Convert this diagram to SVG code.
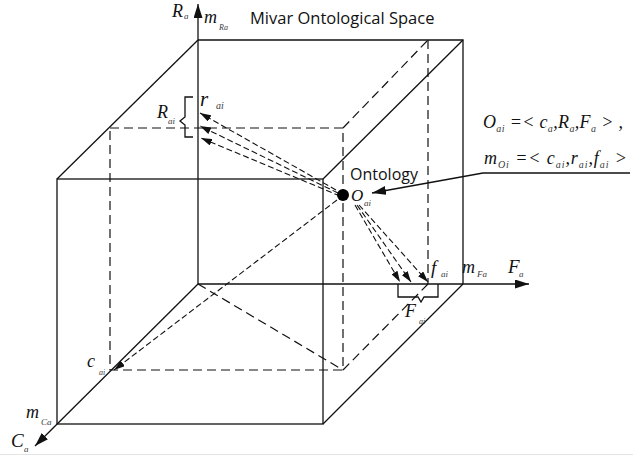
<svg xmlns="http://www.w3.org/2000/svg" width="633" height="455" viewBox="0 0 633 455">
<style>
.s{stroke:#111;stroke-width:1.3;fill:none}
.d{stroke:#111;stroke-width:1.2;fill:none;stroke-dasharray:9,5}
.da{stroke:#111;stroke-width:1.1;fill:none;stroke-dasharray:6,3}
.m{font-family:"Liberation Serif",serif;font-style:italic;fill:#111}
.sub{font-family:"Liberation Serif",serif;font-style:italic;fill:#3a3a3a}
.t{font-family:"Open Sans","Liberation Sans",sans-serif;fill:#111}
</style>
<defs>
<marker id="big" markerWidth="14" markerHeight="9" refX="14" refY="4.5" orient="auto" markerUnits="userSpaceOnUse"><path d="M0,0 L14,4.5 L0,9 Z" fill="#111"/></marker>
<marker id="sm" markerWidth="11" markerHeight="7" refX="11" refY="3.5" orient="auto" markerUnits="userSpaceOnUse"><path d="M0,0 L11,3.5 L0,7 Z" fill="#111"/></marker>
</defs>
<rect width="633" height="455" fill="#fff"/>
<line x1="0" y1="454.5" x2="633" y2="454.5" stroke="#e4e4e4" stroke-width="1"/>
<g id="cube">
<polyline class="s" points="198,40 463,40 463,284"/>
<rect class="s" x="57" y="179" width="266" height="245"/>
<line class="s" x1="198" y1="40" x2="57" y2="179"/>
<line class="s" x1="463" y1="40" x2="323" y2="179"/>
<line class="s" x1="463" y1="284" x2="323" y2="424"/>
</g>
<g id="inner">
<rect class="d" x="110" y="128" width="233" height="242"/>
<line class="d" x1="343" y1="128" x2="428" y2="40"/>
<line class="d" x1="428" y1="40" x2="428" y2="284"/>
<line class="d" x1="428" y1="284" x2="343" y2="370"/>
<line class="d" x1="198" y1="284" x2="343" y2="370"/>
</g>
<g id="axes">
<line class="s" x1="198" y1="284" x2="198" y2="4" marker-end="url(#big)"/>
<line class="s" x1="198" y1="284" x2="529" y2="284" marker-end="url(#big)"/>
<line class="s" x1="198" y1="284" x2="35" y2="446" marker-end="url(#big)"/>
</g>
<g id="connectors">
<line class="da" x1="336" y1="190" x2="200" y2="113" marker-end="url(#sm)"/>
<line class="da" x1="338" y1="193" x2="200" y2="126" marker-end="url(#sm)"/>
<line class="da" x1="340" y1="196" x2="201" y2="138" marker-end="url(#sm)"/>
<line class="da" x1="355" y1="205" x2="400" y2="282" marker-end="url(#sm)"/>
<line class="da" x1="357" y1="205" x2="411" y2="282" marker-end="url(#sm)"/>
<line class="da" x1="359" y1="205" x2="428" y2="282" marker-end="url(#sm)"/>
<line class="da" x1="337" y1="200" x2="114" y2="370" marker-end="url(#sm)"/>
<polyline class="s" points="630,173 483,173 372,193" marker-end="url(#big)"/>
</g>
<g id="braces">
<path class="s" d="M193,97 H185 V117 L180,121 L185,125 V137 H193"/>
<path class="s" d="M398,284 V297 H418 L421,302 L424,297 H438 V284"/>
</g>
<g id="ontology">
<circle cx="343" cy="195" r="6" fill="#000"/>
<text class="t" x="350" y="180" font-size="16">Ontology</text>
<text class="m" x="351" y="201" font-size="17">O</text>
<text class="sub" x="364" y="206" font-size="9">ai</text>
</g>
<g id="labels">
<text class="t" x="250" y="24" font-size="16.5">Mivar Ontological Space</text>
<text class="m" x="172" y="17" font-size="18">R</text><text class="sub" x="184" y="19" font-size="9">a</text>
<text class="m" x="204" y="23" font-size="18">m</text><text class="sub" x="219" y="30" font-size="8">Ra</text>
<text class="m" x="200" y="106" font-size="21">r</text><text class="sub" x="216" y="109" font-size="10">ai</text>
<text class="m" x="157" y="118" font-size="18">R</text><text class="sub" x="168" y="124" font-size="9">ai</text>
<text class="m" x="431" y="274" font-size="19">f</text><text class="sub" x="441" y="277" font-size="9">ai</text>
<text class="m" x="462" y="273" font-size="18">m</text><text class="sub" x="477" y="277" font-size="9">Fa</text>
<text class="m" x="508" y="273" font-size="19">F</text><text class="sub" x="519" y="277" font-size="9">a</text>
<text class="m" x="405" y="317" font-size="18">F</text><text class="sub" x="419" y="324" font-size="8">ai</text>
<text class="m" x="87" y="367" font-size="18">c</text><text class="sub" x="99" y="375" font-size="8">ai</text>
<text class="m" x="26" y="418" font-size="18">m</text><text class="sub" x="41" y="425" font-size="9">Ca</text>
<text class="m" x="11" y="447" font-size="19">C</text><text class="sub" x="24" y="452" font-size="9">a</text>
</g>
<g id="formulas">
<text class="m" x="483" y="128" font-size="18" textLength="140" lengthAdjust="spacing">O<tspan class="sub" font-size="10" dy="4">ai</tspan><tspan dy="-4"> =&lt; c</tspan><tspan class="sub" font-size="10" dy="4">a</tspan><tspan dy="-4">,R</tspan><tspan class="sub" font-size="10" dy="4">a</tspan><tspan dy="-4">,F</tspan><tspan class="sub" font-size="10" dy="4">a</tspan><tspan dy="-4"> &gt; ,</tspan></text>
<text class="m" x="484" y="164" font-size="18" textLength="143" lengthAdjust="spacing">m<tspan class="sub" font-size="10" dy="4">Oi</tspan><tspan dy="-4"> =&lt; c</tspan><tspan class="sub" font-size="10" dy="4">ai</tspan><tspan dy="-4">,r</tspan><tspan class="sub" font-size="10" dy="4">ai</tspan><tspan dy="-4">,f</tspan><tspan class="sub" font-size="10" dy="4">ai</tspan><tspan dy="-4"> &gt;</tspan></text>
</g>
</svg>
